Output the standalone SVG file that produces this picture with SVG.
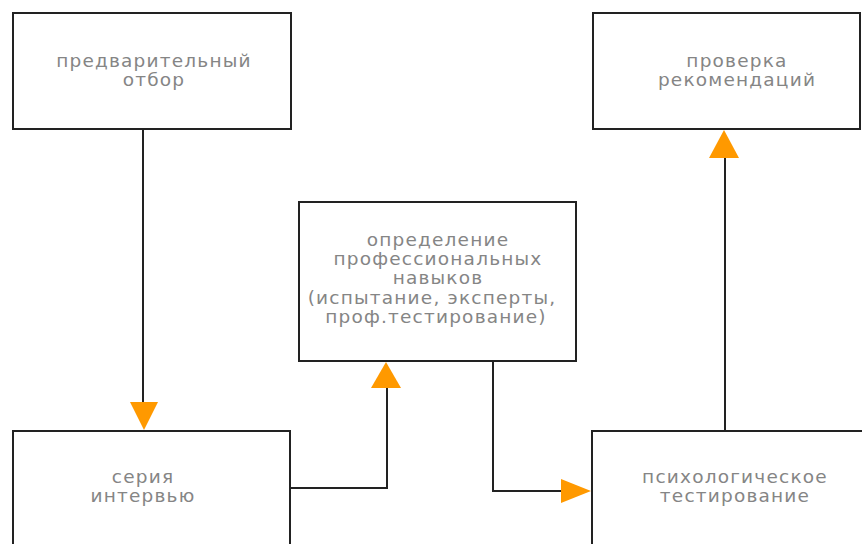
<svg xmlns="http://www.w3.org/2000/svg" width="862" height="544" viewBox="0 0 862 544">
  <style>
    .box { fill: #ffffff; stroke: #222222; stroke-width: 2; }
    .label { font-family: "DejaVu Sans", Verdana, sans-serif; font-size: 18.5px; fill: #858585; text-anchor: middle; letter-spacing: 1.2px; }
    .wire { fill: none; stroke: #222222; stroke-width: 2; }
    .head { fill: #ff9900; }
  </style>
  <rect width="862" height="544" fill="#ffffff"/>

  <g id="connectors">
    <!-- pre-selection -> interview series -->
    <path class="wire" d="M143 129 V402"/>
    <polygon class="head" points="130,402 158,402 144,430"/>
    <!-- interview series -> professional skills -->
    <path class="wire" d="M290 488 H387 V388"/>
    <polygon class="head" points="371,388 401,388 386,362"/>
    <!-- professional skills -> psychological testing -->
    <path class="wire" d="M493 361 V491 H562"/>
    <polygon class="head" points="561,479 561,503 591,491"/>
    <!-- psychological testing -> reference check -->
    <path class="wire" d="M725 431 V158"/>
    <polygon class="head" points="709,158 739,158 724,130"/>
  </g>

  <g id="node-preselection">
    <rect class="box" x="13" y="13" width="278" height="116"/>
    <text class="label" x="154" y="67">предварительный</text>
    <text class="label" x="154" y="86">отбор</text>
  </g>

  <g id="node-skills">
    <rect class="box" x="299" y="202" width="277" height="159"/>
    <text class="label" x="438" y="246">определение</text>
    <text class="label" x="438" y="265">профессиональных</text>
    <text class="label" x="438" y="284">навыков</text>
    <text class="label" x="432" y="304">(испытание, эксперты,</text>
    <text class="label" x="436" y="323">проф.тестирование)</text>
  </g>

  <g id="node-reference">
    <rect class="box" x="593" y="13" width="267" height="116"/>
    <text class="label" x="737" y="67">проверка</text>
    <text class="label" x="737" y="86">рекомендаций</text>
  </g>

  <g id="node-interview">
    <rect class="box" x="13" y="431" width="277" height="130"/>
    <text class="label" x="143" y="483">серия</text>
    <text class="label" x="143" y="502">интервью</text>
  </g>

  <g id="node-psych">
    <rect class="box" x="592" y="431" width="290" height="130"/>
    <text class="label" x="735" y="483">психологическое</text>
    <text class="label" x="735" y="502">тестирование</text>
  </g>
</svg>
